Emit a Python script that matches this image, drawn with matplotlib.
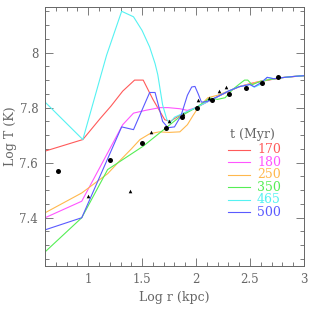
import matplotlib
matplotlib.use("Agg")
import matplotlib.pyplot as plt
from matplotlib.ticker import MultipleLocator, FixedFormatter, FixedLocator

# ---- data ----
labels = ["170", "180", "250", "350", "465", "500"]
colors = ["#ff5a5a", "#ff55ff", "#ffb84d", "#55ee55", "#55f2f2", "#5a5aff"]

x170 = [0.6, 0.95, 1.11, 1.21, 1.32, 1.43, 1.51, 1.60, 1.71, 1.76, 1.85, 2.0, 2.2, 2.4, 2.6, 2.8, 3.0]
y170 = [7.642, 7.684, 7.76, 7.805, 7.86, 7.90, 7.90, 7.83, 7.756, 7.75, 7.772, 7.80, 7.84, 7.876, 7.895, 7.909, 7.916]

x180 = [0.6, 0.94, 1.32, 1.42, 1.53, 1.665, 1.74, 1.85, 1.92, 2.0, 2.1, 2.2, 2.3, 2.4, 2.5, 2.6, 2.7, 2.8, 2.9, 3.0]
y180 = [7.40, 7.46, 7.738, 7.78, 7.79, 7.80, 7.80, 7.796, 7.79, 7.80, 7.82, 7.84, 7.86, 7.876, 7.887, 7.896, 7.903, 7.909, 7.913, 7.916]

x250 = [0.6, 0.94, 1.18, 1.3, 1.4, 1.48, 1.57, 1.66, 1.75, 1.85, 1.92, 1.97, 2.02, 2.11, 2.2, 2.3, 2.4, 2.5, 2.6, 2.7, 2.8, 2.9, 3.0]
y250 = [7.418, 7.49, 7.56, 7.61, 7.65, 7.684, 7.705, 7.712, 7.71, 7.712, 7.738, 7.77, 7.80, 7.836, 7.845, 7.86, 7.876, 7.887, 7.896, 7.903, 7.909, 7.913, 7.916]

x350 = [0.6, 0.94, 1.18, 1.51, 1.85, 2.0, 2.13, 2.2, 2.27, 2.34, 2.4, 2.45, 2.48, 2.52, 2.6, 2.7, 2.8, 2.9, 3.0]
y350 = [7.276, 7.40, 7.575, 7.66, 7.767, 7.80, 7.835, 7.83, 7.836, 7.866, 7.885, 7.90, 7.90, 7.883, 7.896, 7.903, 7.909, 7.913, 7.916]

x465 = [0.6, 0.95, 1.17, 1.31, 1.42, 1.50, 1.57, 1.62, 1.645, 1.69, 1.73, 1.76, 1.8, 1.9, 2.0, 2.1, 2.2, 2.3, 2.4, 2.5, 2.54, 2.6, 2.66, 2.72, 2.8, 2.9, 3.0]
y465 = [7.82, 7.684, 7.99, 8.15, 8.13, 8.08, 8.02, 7.96, 7.92, 7.81, 7.756, 7.745, 7.765, 7.783, 7.80, 7.82, 7.84, 7.86, 7.876, 7.884, 7.874, 7.885, 7.91, 7.905, 7.909, 7.913, 7.916]

x500 = [0.6, 0.94, 1.31, 1.42, 1.57, 1.62, 1.69, 1.74, 1.80, 1.86, 1.92, 1.96, 1.99, 2.02, 2.05, 2.1, 2.2, 2.3, 2.4, 2.5, 2.54, 2.6, 2.66, 2.72, 2.8, 2.9, 3.0]
y500 = [7.356, 7.40, 7.73, 7.72, 7.855, 7.855, 7.75, 7.727, 7.73, 7.77, 7.845, 7.875, 7.877, 7.85, 7.82, 7.822, 7.84, 7.86, 7.876, 7.884, 7.876, 7.89, 7.91, 7.905, 7.909, 7.913, 7.916]

circ_x = [0.72, 1.2, 1.50, 1.72, 1.87, 2.01, 2.15, 2.31, 2.46, 2.61, 2.76]
circ_y = [7.571, 7.61, 7.673, 7.727, 7.765, 7.797, 7.829, 7.85, 7.87, 7.89, 7.913]

tri_x = [1.0, 1.39, 1.58, 1.75, 1.88, 2.02, 2.12, 2.21, 2.28]
tri_y = [7.48, 7.498, 7.71, 7.75, 7.778, 7.829, 7.836, 7.862, 7.876]

xticks = [1, 1.5, 2, 2.5, 3]
xticklabels = ["1", "1.5", "2", "2.5", "3"]
yticks = [7.4, 7.6, 7.8, 8.0]
yticklabels = ["7.4", "7.6", "7.8", "8"]

series = [(x170, y170), (x180, y180), (x250, y250), (x350, y350), (x465, y465), (x500, y500)]

# ---- figure ----
plt.rcParams['font.family'] = ['DejaVu Serif']
gray = "#666666"
fig = plt.figure(figsize=(3.11, 3.11), dpi=100)
ax = fig.add_axes([0.145, 0.145, 0.832, 0.832])

for (xs, ys), c in zip(series, colors):
    ax.plot(xs, ys, color=c, lw=0.8)

ax.plot(circ_x, circ_y, 'o', color='black', ms=3.6, mew=0)
ax.plot(tri_x, tri_y, '^', color='black', ms=2.6, mew=0)

ax.set_xlim(0.6, 3.0)
ax.set_ylim(7.225, 8.165)

ax.xaxis.set_major_locator(FixedLocator(xticks))
ax.xaxis.set_major_formatter(FixedFormatter(xticklabels))
ax.xaxis.set_minor_locator(MultipleLocator(0.1))
ax.yaxis.set_major_locator(FixedLocator(yticks))
ax.yaxis.set_major_formatter(FixedFormatter(yticklabels))
ax.yaxis.set_minor_locator(MultipleLocator(0.05))

ax.tick_params(which='both', direction='in', top=True, right=True, color=gray, labelcolor=gray, labelsize=8.5, width=0.6)
ax.tick_params(which='major', length=6, pad=5)
ax.tick_params(which='minor', length=3)
for s in ax.spines.values():
    s.set_color(gray)
    s.set_linewidth(0.7)

ax.set_xlabel("Log r (kpc)", color=gray, fontsize=9, labelpad=4)
ax.set_ylabel("Log T (K)", color=gray, fontsize=9)
ax.yaxis.set_label_coords(-0.11, 0.5)

# legend drawn manually in axes coordinates
ax.text(0.803, 0.506, "t (Myr)", transform=ax.transAxes, color=gray, fontsize=9, ha='center', va='center')
for i, (lab, c) in enumerate(zip(labels, colors)):
    yy = 0.448 - i * 0.048
    ax.plot([0.707, 0.792], [yy, yy], transform=ax.transAxes, color=c, lw=0.8)
    ax.text(0.819, yy, lab, transform=ax.transAxes, color=c, fontsize=9, ha='left', va='center')

fig.savefig("out.png", dpi=100)
